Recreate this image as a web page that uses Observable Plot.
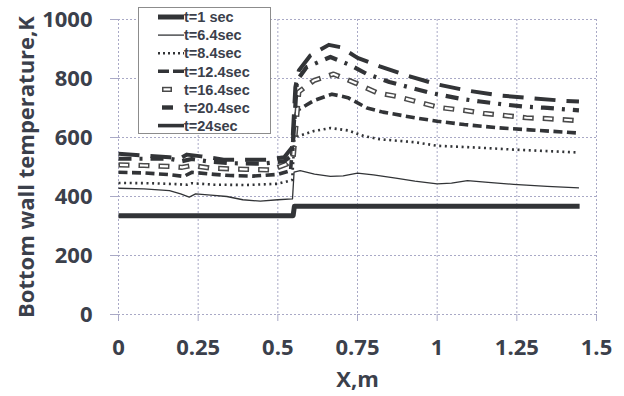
<!DOCTYPE html>
<html><head><meta charset="utf-8">
<script src="https://cdn.jsdelivr.net/npm/d3@7"></script>
<script src="https://cdn.jsdelivr.net/npm/@observablehq/plot@0.6"></script>
<style>
body{margin:0;background:#fff;}
#wrap{position:relative;width:624px;height:396px;overflow:hidden;}
#legend{position:absolute;left:138px;top:7px;width:131px;height:125px;border:1px solid #8c8c8c;background:#fff;}
#legend svg{overflow:visible;}
</style></head><body><div id="wrap"></div>
<script>
// ---- data ----
const xTicks = [0, 0.25, 0.5, 0.75, 1, 1.25, 1.5];
const yTicks = [0, 200, 400, 600, 800, 1000];
const seriesLabels = ["t=1 sec", "t=6.4sec", "t=8.4sec", "t=12.4sec", "t=16.4sec", "t=20.4sec", "t=24sec"];

const x_t1 = [0, 0.548, 0.552, 1.447];
const T_t1 = [335, 335, 367, 367];

const x_t64 = [0, 0.08, 0.16, 0.195, 0.222, 0.242, 0.29, 0.34, 0.39, 0.445, 0.5, 0.546, 0.551, 0.57, 0.615, 0.665, 0.705, 0.75, 0.8, 0.87, 0.93, 1.0, 1.045, 1.095, 1.16, 1.24, 1.345, 1.445];
const T_t64 = [428, 426, 420, 409, 398, 409, 405, 400, 389, 384, 389, 392, 483, 488, 476, 468, 470, 479, 473, 462, 452, 443, 445, 454, 448, 441, 434, 429];

const x_t84 = [0, 0.1, 0.18, 0.215, 0.23, 0.3, 0.4, 0.5, 0.545, 0.552, 0.56, 0.613, 0.665, 0.72, 0.77, 0.82, 0.93, 1.0, 1.14, 1.24, 1.445];
const T_t84 = [446, 445, 442, 440, 445, 440, 439, 443, 456, 590, 603, 622, 632, 624, 605, 594, 584, 572, 565, 559, 549];

const x_t124 = [0, 0.08, 0.16, 0.205, 0.23, 0.3, 0.35, 0.42, 0.5, 0.54, 0.552, 0.561, 0.613, 0.67, 0.72, 0.78, 0.83, 0.93, 1.0, 1.085, 1.19, 1.29, 1.445];
const T_t124 = [482, 480, 474, 468, 482, 475, 471, 469, 475, 488, 660, 692, 725, 747, 735, 700, 686, 667, 655, 644, 633, 626, 615];

const x_t164 = [0, 0.08, 0.16, 0.2, 0.23, 0.29, 0.4, 0.48, 0.53, 0.548, 0.566, 0.613, 0.675, 0.745, 0.81, 0.875, 0.94, 1.01, 1.085, 1.145, 1.28, 1.345, 1.445];
const T_t164 = [507, 505, 502, 499, 505, 496, 492, 490, 511, 530, 755, 793, 815, 784, 752, 739, 720, 701, 692, 682, 667, 664, 657];

const x_t204 = [0, 0.08, 0.16, 0.2, 0.23, 0.28, 0.35, 0.45, 0.52, 0.545, 0.56, 0.59, 0.665, 0.728, 0.78, 0.85, 0.91, 0.98, 1.075, 1.135, 1.21, 1.27, 1.335, 1.445];
const T_t204 = [528, 528, 528, 520, 527, 519, 513, 511, 520, 539, 793, 838, 873, 845, 815, 788, 771, 751, 731, 722, 712, 705, 701, 692];

const x_t24 = [0, 0.08, 0.16, 0.195, 0.215, 0.26, 0.33, 0.4, 0.47, 0.52, 0.545, 0.555, 0.566, 0.602, 0.66, 0.697, 0.75, 0.82, 0.905, 1.0, 1.095, 1.2, 1.29, 1.39, 1.445];
const T_t24 = [545, 539, 533, 530, 542, 536, 525, 525, 525, 533, 567, 771, 827, 878, 914, 906, 870, 841, 810, 780, 759, 742, 734, 725, 722];

const xSeries = [x_t1, x_t64, x_t84, x_t124, x_t164, x_t204, x_t24];
const TSeries = [T_t1, T_t64, T_t84, T_t124, T_t164, T_t204, T_t24];

// ---- styles ----
const ink = "#323437";
const textInk = "#3b404b";
const gridInk = "#a9a9c6";
const lineStyles = [
  [{stroke: ink, strokeWidth: 5}],
  [{stroke: ink, strokeWidth: 1.3}],
  [{stroke: ink, strokeWidth: 2.6, strokeDasharray: "2,3.6"}],
  [{stroke: ink, strokeWidth: 3.6, strokeDasharray: "9,4.5"}],
  [{stroke: "#4a4a4a", strokeWidth: 5.2, strokeDasharray: "11,9"},
   {stroke: "#ffffff", strokeWidth: 2.2, strokeDasharray: "8,12", strokeDashoffset: -1.5}],
  [{stroke: ink, strokeWidth: 4.2, strokeDasharray: "13,8,3,8"}],
  [{stroke: ink, strokeWidth: 4, strokeDasharray: "21,11"}]
];

const tables = seriesLabels.map((s, i) => xSeries[i].map((x, j) => ({series: s, x, T: TSeries[i][j]})));

const lineMarks = [];
tables.forEach((tbl, i) => {
  lineMarks.push(...lineStyles[i].map(st => Plot.line(tbl, {x: "x", y: "T", strokeLinejoin: "round", strokeLinecap: "butt", ...st})));
});

const chart = Plot.plot({
  width: 624,
  height: 396,
  marginLeft: 118,
  marginRight: 28,
  marginTop: 19,
  marginBottom: 82,
  style: {fontFamily: "'Open Sans', sans-serif", fontWeight: "bold", background: "#fff", color: textInk},
  x: {domain: [0, 1.5]},
  y: {domain: [0, 1000]},
  marks: [
    Plot.gridX({ticks: xTicks, stroke: gridInk, strokeOpacity: 1, strokeDasharray: "2,2"}),
    Plot.gridY({ticks: yTicks, stroke: gridInk, strokeOpacity: 1, strokeDasharray: "2,2"}),
    Plot.axisX({ticks: xTicks, tickSize: 7, tickPadding: 18, fontSize: 22, stroke: gridInk, fill: textInk,
      tickFormat: d => String(d), label: "X,m", labelAnchor: "center", labelArrow: "none", labelOffset: 72}),
    Plot.axisY({ticks: yTicks, tickSize: 8, tickPadding: 18, fontSize: 22, stroke: gridInk, fill: textInk,
      tickFormat: d => String(d), label: "Bottom wall temperature,K", labelAnchor: "center", labelArrow: "none", labelOffset: 100}),
    ...lineMarks
  ]
});
const wrap = document.getElementById("wrap");
wrap.appendChild(chart);

// ---- legend (inside the plot area, top-left) ----
const legend = d3.select(wrap).append("div").attr("id", "legend");
const lsvg = legend.append("svg").attr("width", 131).attr("height", 125);
const rowY = i => 9 + i * 18.1;
const sampleStyles = [
  {w: 5, dash: null, x0: 19, x1: 45},
  {w: 1.3, dash: null, x0: 19, x1: 45},
  {w: 2.4, dash: "2,3", x0: 19, x1: 45},
  {w: 3.6, dash: "11,4", x0: 19, x1: 45},
  {w: 5.2, dash: null, x0: 23, x1: 33, hollow: true},
  {w: 4.4, dash: null, x0: 23, x1: 34},
  {w: 3.6, dash: null, x0: 19, x1: 45}
];
seriesLabels.forEach((lab, i) => {
  const s = sampleStyles[i];
  const y = rowY(i);
  const ln = lsvg.append("line").attr("x1", s.x0).attr("x2", s.x1).attr("y1", y).attr("y2", y)
    .attr("stroke", s.hollow ? "#4a4a4a" : ink).attr("stroke-width", s.w);
  if (s.dash) ln.attr("stroke-dasharray", s.dash);
  if (s.hollow) {
    lsvg.append("line").attr("x1", s.x0 + 1.5).attr("x2", s.x1 - 1.5).attr("y1", y).attr("y2", y)
      .attr("stroke", "#fff").attr("stroke-width", 2.2);
  }
  lsvg.append("text").attr("x", 45).attr("y", y).attr("dy", "0.36em")
    .attr("font-family", "'Liberation Sans', Arial, sans-serif").attr("font-weight", "bold")
    .attr("font-size", 14.5).attr("fill", textInk).text(lab);
});
</script>
</body></html>
